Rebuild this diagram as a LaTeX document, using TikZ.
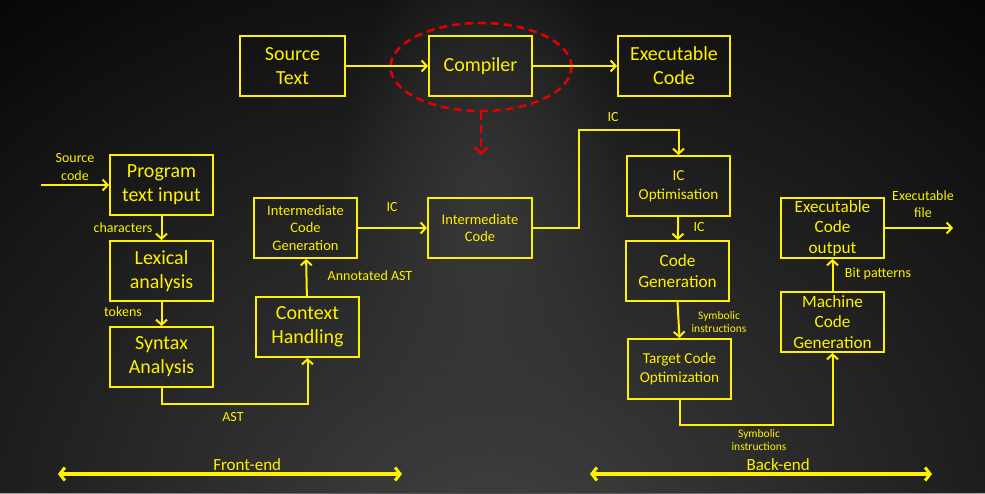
\documentclass[tikz,border=0pt]{standalone}
\usepackage{fontspec}
\setmainfont{Carlito}
\usetikzlibrary{arrows.meta,shapes.geometric,fadings}

\newcommand\fxl{\fontsize{20}{24}\selectfont}
\newcommand\fl{\fontsize{17.2}{20.5}\selectfont}
\newcommand\fm{\fontsize{15.2}{19}\selectfont}
\newcommand\fs{\fontsize{14.5}{17.5}\selectfont}
\newcommand\flab{\fontsize{14}{17.5}\selectfont}
\newcommand\ftiny{\fontsize{11.5}{13}\selectfont}

\tikzfading[name=glow, inner color=transparent!0, outer color=transparent!100]

\tikzstyle{blk}=[draw=yellow, line width=2pt, text=yellow, minimum width=103pt, minimum height=60pt, inner sep=0pt, align=center]
\tikzstyle{lab}=[text=yellow, align=center, inner sep=0pt, font=\flab]
\tikzstyle{arr}=[draw=yellow, line width=2pt, -{Straight Barb[length=5pt,width=11pt,line width=2pt]}]
\tikzstyle{bigarr}=[draw=yellow, line width=4pt, {Straight Barb[length=5pt,width=13pt,line width=3pt]}-{Straight Barb[length=5pt,width=13pt,line width=3pt]}]
\tikzstyle{ring}=[ellipse, draw=red!90!black, line width=2.5pt, dash pattern=on 8pt off 5pt, minimum width=181pt, minimum height=88pt]

\begin{document}
\begin{tikzpicture}[x=1pt,y=-1pt]
\useasboundingbox (0,0) rectangle (985,493);
% background
\fill[black] (0,0) rectangle (985,493);
\fill[white!26!black, path fading=glow] (490,540) ellipse [x radius=900, y radius=760];
\fill[white!22!black, path fading=glow] (483,230) ellipse [x radius=150, y radius=320];

% top row
\node[blk,font=\fxl, minimum width=105pt] (src) at (292.5,66) {Source\\Text};
\node[blk,font=\fxl] (comp) at (480.5,66) {Compiler};
\node[blk,font=\fxl, minimum width=112pt] (exe) at (674,66) {Executable\\Code};
\node[ring] (circ) at (481,67) {};
\coordinate (dn) at (481,155);

\draw[arr] (src) -- (comp);
\draw[arr] (comp) -- (exe);
\draw[draw=red!90!black, line width=2.5pt, dash pattern=on 8pt off 5pt, -{Straight Barb[length=6pt,width=13pt,line width=2.5pt]}] (circ.south) -- (dn);

% front-end
\node[blk,font=\fxl] (pti) at (161.5,185) {Program\\text input};
\node[blk,font=\fxl] (lex) at (161.5,271) {Lexical\\analysis};
\node[blk,font=\fxl] (syn) at (161.5,357) {Syntax\\Analysis};
\node[blk,font=\fxl] (ctx) at (307.5,327) {Context\\Handling};
\node[blk,font=\fs] (icg) at (305.5,228) {Intermediate\\Code\\Generation};
\node[blk,font=\fs, minimum width=104pt] (ic) at (480,228) {Intermediate\\Code};
\coordinate (sc) at (41,185);

\draw[arr] (sc) -- (pti);
\draw[arr] (pti) -- (lex);
\draw[arr] (lex) -- (syn);
\draw[arr] (syn.south) -- ++(0,16) -| (ctx.south);
\draw[arr] (ctx) -- (icg);
\draw[arr] (icg) -- (ic);

\node[lab] at (75,167) {Source\\code};
\node[lab] at (123,228) {characters};
\node[lab] at (123,312) {tokens};
\node[lab] at (233,417) {AST};
\node[lab] at (370,276) {Annotated AST};
\node[lab] at (392,207) {IC};

% back-end
\node[blk,font=\fm] (ico) at (678.5,186) {IC\\Optimisation};
\node[blk,font=\fl] (cg) at (677.5,271) {Code\\Generation};
\node[blk,font=\fm] (tco) at (679.5,369) {Target Code\\Optimization};
\node[blk,font=\fl] (mcg) at (832.5,322) {Machine\\Code\\Generation};
\node[blk,font=\fl] (eco) at (832.5,228) {Executable\\Code\\output};
\coordinate (icup) at (579,130);
\coordinate (ef) at (953,228);

\draw[arr] (ic.east) -| (icup) -| (ico.north);
\draw[arr] (ico) -- (cg);
\draw[arr] (cg.south) -- (tco.north);
\draw[arr] (tco.south) -- ++(0,25) -| (mcg.south);
\draw[arr] (mcg) -- (eco);
\draw[arr] (eco) -- (ef);

\node[lab] at (613,117) {IC};
\node[lab] at (699,227) {IC};
\node[lab,font=\ftiny] at (719,322) {Symbolic\\instructions};
\node[lab,font=\ftiny] at (759,440) {Symbolic\\instructions};
\node[lab] at (878,274) {Bit patterns};
\node[lab] at (923,204) {Executable\\file};

% ranges
\coordinate (fe1) at (58,474);
\coordinate (fe2) at (402,474);
\coordinate (be1) at (590,474);
\coordinate (be2) at (932,474);
\draw[bigarr] (fe1) -- (fe2) node[pos=0.55, above=-2pt, text=yellow, font=\fontsize{17}{20}\selectfont] {Front-end};
\draw[bigarr] (be1) -- (be2) node[pos=0.55, above=-2pt, text=yellow, font=\fontsize{17}{20}\selectfont] {Back-end};
\end{tikzpicture}
\end{document}
